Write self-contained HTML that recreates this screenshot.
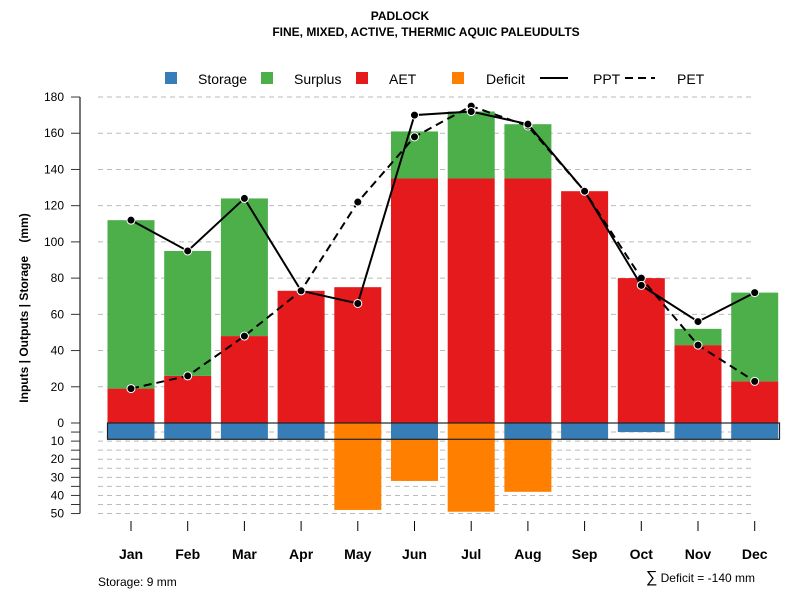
<!DOCTYPE html>
<html><head><meta charset="utf-8"><style>
body{margin:0;background:#fff;}
svg{display:block;font-family:"Liberation Sans",Arial,sans-serif;}
</style></head><body>
<svg id="c" width="800" height="600" xmlns="http://www.w3.org/2000/svg">
<text x="400" y="20" text-anchor="middle" font-size="12" font-weight="bold">PADLOCK</text>
<text x="426" y="36" text-anchor="middle" font-size="12" font-weight="bold">FINE, MIXED, ACTIVE, THERMIC AQUIC PALEUDULTS</text>
<g id="grid"></g><g id="bars"></g><g id="lines"></g><g id="axis"></g>
<g font-size="14">
<rect x="165" y="72" width="12" height="12" fill="#377eb8"/>
<text x="198" y="84">Storage</text>
<rect x="261" y="72" width="12" height="12" fill="#4daf4a"/>
<text x="294" y="84">Surplus</text>
<rect x="356" y="72" width="12" height="12" fill="#e41a1c"/>
<text x="389" y="84">AET</text>
<rect x="452" y="72" width="12" height="12" fill="#ff7f00"/>
<text x="486" y="84">Deficit</text>
<line x1="540" y1="78" x2="568" y2="78" stroke="#000" stroke-width="2"/>
<text x="593" y="84">PPT</text>
<line x1="625" y1="78" x2="655" y2="78" stroke="#000" stroke-width="2" stroke-dasharray="8,5"/>
<text x="677" y="84">PET</text>
</g>
<text transform="translate(28,308) rotate(-90)" text-anchor="middle" font-size="12" font-weight="bold" style="white-space:pre" xml:space="preserve">Inputs | Outputs | Storage    (mm)</text>
<text x="98" y="586" font-size="12">Storage: 9 mm</text>
<text x="755" y="582" text-anchor="end" font-size="12"><tspan font-size="16">∑</tspan> Deficit = -140 mm</text>
</svg>
<script>
const months=["Jan","Feb","Mar","Apr","May","Jun","Jul","Aug","Sep","Oct","Nov","Dec"];
const aet=[19,26,48,73,75,135,135,135,128,80,43,23];
const surplus=[93,69,76,0,0,26,37,30,0,0,9,49];
const storage=[9,9,9,9,0,9,0,9,9,5,9,9];
const deficit=[0,0,0,0,48,32,49,38,0,0,0,0];
const ppt=[112,95,124,73,66,170,172,165,128,76,56,72];
const pet=[19,26,48,73,122,158,175,164,128,80,43,23];
const upTicks=[0,20,40,60,80,100,120,140,160,180];
const downTicks=[0,10,20,30,40,50];
const NS="http://www.w3.org/2000/svg";
const y=v=>423-v*1.811;
const x=i=>131+i*56.7;
const hw=23.5;
function mk(p,t,a){const e=document.createElementNS(NS,t);for(const k in a)e.setAttribute(k,a[k]);p.appendChild(e);return e;}
const G=document.getElementById('grid'),B=document.getElementById('bars'),L=document.getElementById('lines'),A=document.getElementById('axis');
upTicks.forEach(t=>{if(t===0)return;
 const g=mk(G,'line',{x1:98,x2:755,y1:y(t),y2:y(t),stroke:'#bbb','stroke-dasharray':'5,4'});
 
 });
for(let v=5;v<=50;v+=5){
 const g=mk(G,'line',{x1:98,x2:755,y1:y(-v),y2:y(-v),stroke:'#bbb','stroke-dasharray':'5,4'});
 
 }
months.forEach((m,i)=>{
 const cx=x(i);
 let r=mk(B,'rect',{x:cx-hw,y:y(aet[i]),width:hw*2,height:y(0)-y(aet[i]),fill:'#e41a1c'});
 
 
 if(surplus[i]>0){r=mk(B,'rect',{x:cx-hw,y:y(aet[i]+surplus[i]),width:hw*2,height:y(aet[i])-y(aet[i]+surplus[i]),fill:'#4daf4a'});
 
 }
 if(deficit[i]>0){r=mk(B,'rect',{x:cx-hw,y:y(0),width:hw*2,height:y(-deficit[i])-y(0),fill:'#ff7f00'});
 
 }
 if(storage[i]>0){r=mk(B,'rect',{x:cx-hw,y:y(0),width:hw*2,height:y(-storage[i])-y(0),fill:'#377eb8'});
 
 }
 const tk=mk(A,'line',{x1:cx,x2:cx,y1:521,y2:531,stroke:'#000'});
 
 
 const tl=mk(A,'text',{x:cx,y:559,'text-anchor':'middle','font-size':14,'font-weight':'bold'});tl.textContent=m;
 
 
});
const sb=mk(B,'rect',{x:107.5,y:y(0),width:672,height:y(-9)-y(0),fill:'none',stroke:'#222','stroke-width':1.2});


function series(vals,name,dash){
 const pts=vals.map((v,i)=>x(i)+','+y(v)).join(' ');
 const pl=mk(L,'polyline',{points:pts,fill:'none',stroke:'#000','stroke-width':2,'stroke-dasharray':dash});
 
 
 vals.forEach((v,i)=>{const c=mk(L,'circle',{cx:x(i),cy:y(v),r:4,fill:'#000',stroke:'#fff','stroke-width':1});
 
 });
}
series(pet,'pet','8,5');
series(ppt,'ppt','none');
const ax=mk(A,'line',{x1:80,x2:80,y1:y(180),y2:y(-50),stroke:'#777','stroke-width':2});


upTicks.forEach(t=>{const l=mk(A,'line',{x1:71,x2:80,y1:y(t),y2:y(t),stroke:'#333'});
 
 
 const tx=mk(A,'text',{x:64,y:y(t)+4,'text-anchor':'end','font-size':12});tx.textContent=t;
 
 });
for(let v=5;v<=50;v+=5){const l=mk(A,'line',{x1:71,x2:80,y1:y(-v),y2:y(-v),stroke:'#333'});
 
 }
downTicks.forEach(t=>{if(t===0)return;const tx=mk(A,'text',{x:64,y:y(-t)+4,'text-anchor':'end','font-size':12});tx.textContent=t;
 
 });
</script>
</body></html>
